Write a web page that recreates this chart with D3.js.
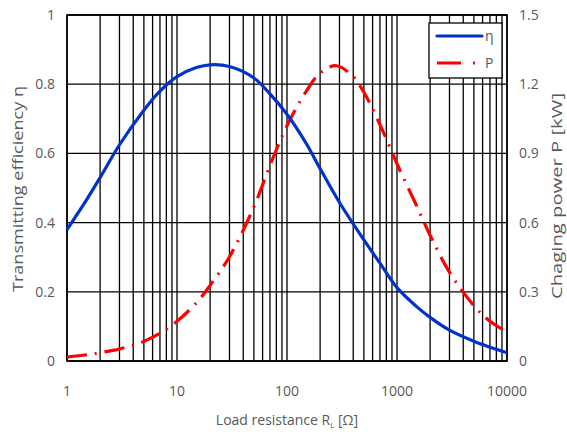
<!DOCTYPE html>
<html>
<head>
<meta charset="utf-8">
<script src="https://cdn.jsdelivr.net/npm/d3@7"></script>
<style>
  body { margin: 0; background: #fff; }
  text { font-family: "Open Sans", Lato, sans-serif; fill: #595959; }
</style>
</head>
<body>
<div id="chart"></div>
<script>
// load resistance RL [ohm]
var rEta = [1, 1.5, 2, 3, 5, 7, 10, 15, 20, 30, 50, 70, 100, 150, 200, 300, 500, 700, 1000, 1500, 2000, 3000, 5000, 7000, 10000];
var eta  = [0.38, 0.465, 0.53, 0.625, 0.725, 0.78, 0.822, 0.848, 0.856, 0.851, 0.818, 0.772, 0.713, 0.628, 0.556, 0.458, 0.35, 0.283, 0.212, 0.158, 0.126, 0.089, 0.057, 0.04, 0.024];

var rP = [1, 1.5, 2, 3, 4, 5, 7, 10, 15, 20, 30, 50, 70, 100, 150, 200, 280, 400, 500, 700, 1000, 1500, 2000, 3000, 5000, 7000, 10000];
var power = [0.017, 0.027, 0.036, 0.052, 0.068, 0.085, 0.12, 0.172, 0.252, 0.328, 0.452, 0.668, 0.848, 1.02, 1.17, 1.248, 1.28, 1.232, 1.165, 1.025, 0.855, 0.675, 0.545, 0.385, 0.24, 0.172, 0.126];

var xTicks = [1, 10, 100, 1000, 10000];
var leftTicks = [0, 0.2, 0.4, 0.6, 0.8, 1];
var rightTicks = [0, 0.3, 0.6, 0.9, 1.2, 1.5];

var width = 567, height = 432;
var margin = {left: 67, right: 60, top: 15, bottom: 71};

var svg = d3.select("#chart").append("svg")
    .attr("width", width)
    .attr("height", height);

var x = d3.scaleLog().domain([1, 10000]).range([margin.left, width - margin.right]);
var y = d3.scaleLinear().domain([0, 1]).range([height - margin.bottom, margin.top]);
var y2 = d3.scaleLinear().domain([0, 1.5]).range([height - margin.bottom, margin.top]);

// vertical grid at every minor step of each decade
var minor = [];
for (var d = 1; d < 10000; d *= 10) {
  for (var k = 1; k < 10; k++) minor.push(d * k);
}
minor.push(10000);

svg.append("g").selectAll("line").data(minor).enter().append("line")
  .attr("x1", function(d) { return x(d); })
  .attr("x2", function(d) { return x(d); })
  .attr("y1", y(0))
  .attr("y2", y(1))
  .attr("stroke", "#000")
  .attr("stroke-width", 1.3);

svg.append("g").selectAll("line").data(leftTicks).enter().append("line")
  .attr("x1", x(1))
  .attr("x2", x(10000))
  .attr("y1", function(d) { return y(d); })
  .attr("y2", function(d) { return y(d); })
  .attr("stroke", "#000")
  .attr("stroke-width", 1.3);

svg.append("rect")
  .attr("x", x(1)).attr("y", y(1))
  .attr("width", x(10000) - x(1))
  .attr("height", y(0) - y(1))
  .attr("fill", "none")
  .attr("stroke", "#000")
  .attr("stroke-width", 1.6);

// axis labels
svg.append("g").selectAll("text").data(xTicks).enter().append("text")
  .attr("x", function(d) { return x(d); })
  .attr("y", y(0) + 35)
  .attr("text-anchor", "middle")
  .style("font-size", "14px")
  .text(function(d) { return d; });

svg.append("g").selectAll("text").data(leftTicks).enter().append("text")
  .attr("x", x(1) - 12)
  .attr("y", function(d) { return y(d) + 5; })
  .attr("text-anchor", "end")
  .style("font-size", "14px")
  .text(function(d) { return d; });

svg.append("g").selectAll("text").data(rightTicks).enter().append("text")
  .attr("x", x(10000) + 12)
  .attr("y", function(d) { return y2(d) + 5; })
  .attr("text-anchor", "start")
  .style("font-size", "14px")
  .text(function(d) { return d; });

var xt = svg.append("text")
  .attr("x", (x(1) + x(10000)) / 2)
  .attr("y", 425)
  .attr("text-anchor", "middle")
  .style("font-size", "14px");
xt.append("tspan").text("Load resistance R");
xt.append("tspan").attr("dy", 3).style("font-size", "8px").text("L");
xt.append("tspan").attr("dy", -3).text(" [Ω]");

svg.append("text")
  .attr("transform", "translate(23,189) rotate(-90)")
  .attr("text-anchor", "middle")
  .attr("textLength", 206)
  .attr("lengthAdjust", "spacingAndGlyphs")
  .style("font-size", "14px")
  .text("Transmitting efficiency η");

svg.append("text")
  .attr("transform", "translate(562,196) rotate(-90)")
  .attr("text-anchor", "middle")
  .attr("textLength", 206)
  .attr("lengthAdjust", "spacingAndGlyphs")
  .style("font-size", "14px")
  .text("Chaging power P [kW]");

// curves
var etaLine = d3.line()
  .x(function(d, i) { return x(rEta[i]); })
  .y(function(d) { return y(d); })
  .curve(d3.curveCatmullRom.alpha(0.5));

var pLine = d3.line()
  .x(function(d, i) { return x(rP[i]); })
  .y(function(d) { return y2(d); })
  .curve(d3.curveCatmullRom.alpha(0.5));

svg.append("path")
  .attr("d", pLine(power))
  .attr("fill", "none")
  .attr("stroke", "#ff0000")
  .attr("stroke-width", 3.2)
  .attr("stroke-dasharray", "20,8,2,8");

svg.append("path")
  .attr("d", etaLine(eta))
  .attr("fill", "none")
  .attr("stroke", "#0033cc")
  .attr("stroke-width", 3.2);

// legend
var lg = svg.append("g");
lg.append("rect")
  .attr("x", 429).attr("y", 23)
  .attr("width", 73).attr("height", 55)
  .attr("fill", "#fff")
  .attr("stroke", "#000")
  .attr("stroke-width", 1.3);
lg.append("line")
  .attr("x1", 437).attr("x2", 482).attr("y1", 36).attr("y2", 36)
  .attr("stroke", "#0033cc").attr("stroke-width", 3.2).attr("stroke-linecap", "round");
lg.append("line")
  .attr("x1", 437).attr("x2", 475).attr("y1", 63).attr("y2", 63)
  .attr("stroke", "#ff0000").attr("stroke-width", 3.2)
  .attr("stroke-dasharray", "24,12,2,8");
lg.append("text").attr("x", 485).attr("y", 41).style("font-size", "14px").text("η");
lg.append("text").attr("x", 485).attr("y", 68).style("font-size", "14px").text("P");
</script>
</body>
</html>
